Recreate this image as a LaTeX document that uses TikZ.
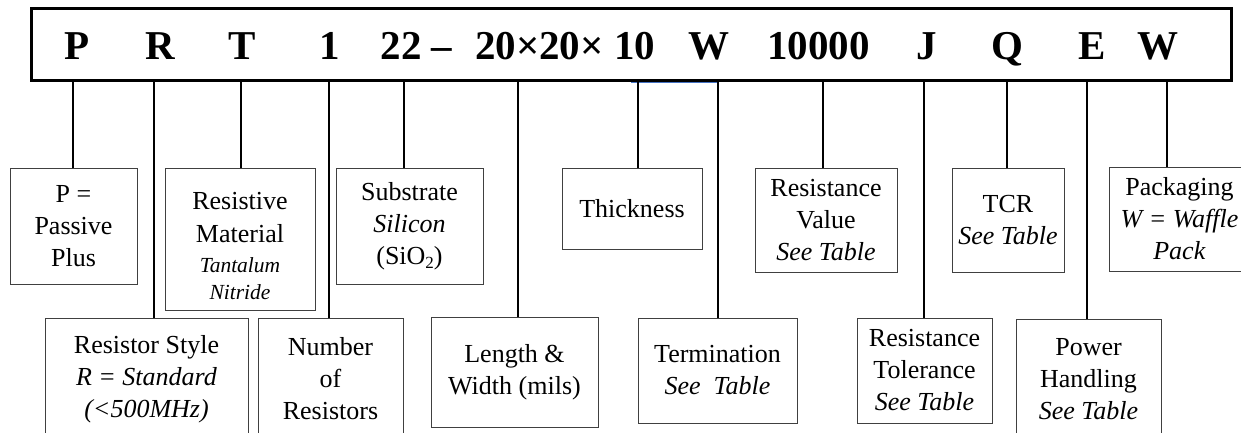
\documentclass[tikz,border=0pt]{standalone}
\usepackage{fontspec}
\setmainfont{Liberation Serif}
\begin{document}
\begin{tikzpicture}[x=1pt,y=-1pt,
  barbox/.style={draw=black, line width=3pt, inner sep=0, outer sep=0},
  code/.style={font=\bfseries\fontsize{41}{41}\selectfont, anchor=base, inner sep=0},
  box/.style={draw=black!75, line width=0.9pt, inner sep=0, outer sep=0, align=center,
              font=\fontsize{26}{32}\selectfont},
  boxtext/.style={inner sep=0, align=center, font=\fontsize{26}{32}\selectfont},
  conn/.style={draw=black, line width=2pt}]
\useasboundingbox (0,0) rectangle (1241,433);

% top bar with the part number
\node[barbox, minimum width=1200pt, minimum height=72pt] (bar) at (631,45) {};
\node[code] (cP)  at (77.5,60)  {P};
\node[code] (cR)  at (160,60)   {R};
\node[code] (cT)  at (242,60)   {T};
\node[code] (c1)  at (329.5,60) {1};
\node[code] (c22) at (416.5,60) {22 –};
\node[code] (cD)  at (565,60)   {20×20× 10};
\node[code] (cW1) at (709,60)   {W};
\node[code] (cV)  at (818.5,60) {10000};
\node[code] (cJ)  at (926.5,60) {J};
\node[code] (cQ)  at (1007.5,60){Q};
\node[code] (cE)  at (1092.5,60){E};
\node[code] (cW2) at (1158,60)  {W};
\draw[line width=1pt, draw={rgb,255:red,68;green,114;blue,196}] (631,82.6) -- (717,82.6);

% upper row of boxes
\node[box, minimum width=127pt, minimum height=116pt] (pp) at (73.5,226) {P =\\Passive\\Plus};
\node[box, minimum width=150pt, minimum height=142pt] (rm) at (240,239) {};
\node[boxtext] (rmtext) at (240,246)
  {Resistive\\[1pt]Material\\[-2pt]{\itshape\fontsize{21.5}{26}\selectfont Tantalum}\\[-5pt]{\itshape\fontsize{21.5}{26}\selectfont Nitride}};
\node[box, minimum width=147pt, minimum height=116pt] (sub) at (409.5,226)
  {Substrate\\\textit{Silicon}\\(SiO\raisebox{-4.5pt}{\fontsize{17}{17}\selectfont 2})};
\node[box, minimum width=140pt, minimum height=81pt] (th) at (632,208.5) {Thickness};
\node[box, minimum width=142pt, minimum height=104pt] (rv) at (826,220) {Resistance\\Value\\\textit{See Table}};
\node[box, minimum width=112pt, minimum height=104pt] (tcr) at (1008,220) {TCR\\\textit{See Table}};
\node[box, minimum width=141pt, minimum height=104pt] (pk) at (1179.5,219) {Packaging\\\textit{W = Waffle}\\\textit{Pack}};

% lower row of boxes
\node[box, minimum width=203pt, minimum height=122pt] (rs) at (146.5,379) {Resistor Style\\\textit{R = Standard}\\\textit{(<500MHz)}};
\node[box, minimum width=145pt, minimum height=122pt] (nr) at (330.5,379) {Number\\of\\Resistors};
\node[box, minimum width=167pt, minimum height=110pt] (lw) at (514.5,372) {Length \&\\Width (mils)};
\node[box, minimum width=159pt, minimum height=105pt] (tm) at (717.5,370.5) {Termination\\\textit{See\enspace Table}};
\node[box, minimum width=135pt, minimum height=105pt] (rt) at (924.5,370.5) {Resistance\\Tolerance\\\textit{See Table}};
\node[box, minimum width=145pt, minimum height=121pt] (ph) at (1088.5,379.5) {Power\\Handling\\\textit{See Table}};

% connectors
\draw[conn] ([xshift=-0.5pt]pp.north)  -- ([xshift=-0.5pt]pp.north |- bar.south);
\draw[conn] ([xshift=7.5pt]rs.north)   -- ([xshift=7.5pt]rs.north |- bar.south);
\draw[conn] ([xshift=1pt]rm.north)     -- ([xshift=1pt]rm.north |- bar.south);
\draw[conn] ([xshift=-1.5pt]nr.north)  -- ([xshift=-1.5pt]nr.north |- bar.south);
\draw[conn] ([xshift=-5.5pt]sub.north) -- ([xshift=-5.5pt]sub.north |- bar.south);
\draw[conn] ([xshift=3.5pt]lw.north)   -- ([xshift=3.5pt]lw.north |- bar.south);
\draw[conn] ([xshift=6pt]th.north)     -- ([xshift=6pt]th.north |- bar.south);
\draw[conn] ([xshift=0.5pt]tm.north)   -- ([xshift=0.5pt]tm.north |- bar.south);
\draw[conn] ([xshift=-3pt]rv.north)    -- ([xshift=-3pt]rv.north |- bar.south);
\draw[conn] ([xshift=-0.5pt]rt.north)  -- ([xshift=-0.5pt]rt.north |- bar.south);
\draw[conn] ([xshift=-1pt]tcr.north)   -- ([xshift=-1pt]tcr.north |- bar.south);
\draw[conn] ([xshift=-1.5pt]ph.north)  -- ([xshift=-1.5pt]ph.north |- bar.south);
\draw[conn] ([xshift=-12.5pt]pk.north) -- ([xshift=-12.5pt]pk.north |- bar.south);
\end{tikzpicture}
\end{document}
